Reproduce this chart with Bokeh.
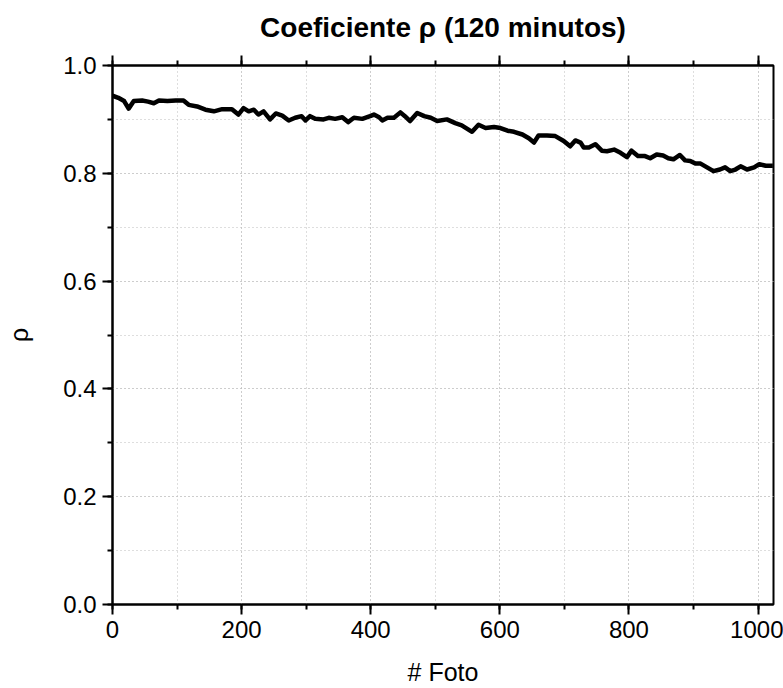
from bokeh.plotting import figure
from bokeh.models import (Range1d, LinearAxis, SingleIntervalTicker,
                          CustomJSTickFormatter, PrintfTickFormatter)
from bokeh.embed import file_html
from bokeh.resources import INLINE

# Data
foto = [0, 9, 18, 25, 33, 46, 55, 64, 72, 85, 98, 110, 118, 131, 144, 157, 170,
        185, 195, 203, 211, 219, 226, 234, 244, 253, 263, 273, 283, 293, 299, 306,
        314, 327, 335, 345, 356, 365, 374, 387, 399, 405, 413, 418, 426, 436, 446,
        453, 461, 472, 483, 493, 503, 518, 531, 541, 557, 567, 578, 591, 601, 612,
        622, 635, 645, 653, 660, 673, 686, 699, 709, 717, 725, 730, 738, 748, 758,
        766, 777, 787, 797, 804, 814, 825, 833, 843, 853, 861, 869, 879, 887, 895,
        903, 911, 921, 931, 941, 949, 957, 965, 973, 983, 994, 1002, 1012, 1023]
rho = [0.944, 0.940, 0.934, 0.920, 0.934, 0.935, 0.933, 0.930, 0.935, 0.934,
       0.935, 0.935, 0.927, 0.924, 0.918, 0.915, 0.919, 0.919, 0.909, 0.921, 0.915,
       0.918, 0.909, 0.915, 0.900, 0.911, 0.907, 0.898, 0.903, 0.906, 0.898, 0.906,
       0.901, 0.900, 0.903, 0.901, 0.904, 0.895, 0.903, 0.901, 0.906, 0.909, 0.904,
       0.898, 0.903, 0.903, 0.913, 0.906, 0.897, 0.912, 0.906, 0.903, 0.897, 0.900,
       0.893, 0.889, 0.877, 0.890, 0.884, 0.886, 0.884, 0.879, 0.877, 0.872, 0.865,
       0.857, 0.870, 0.870, 0.869, 0.860, 0.850, 0.861, 0.857, 0.848, 0.848, 0.854,
       0.842, 0.841, 0.844, 0.838, 0.830, 0.842, 0.832, 0.832, 0.828, 0.835, 0.833,
       0.828, 0.826, 0.834, 0.824, 0.823, 0.818, 0.818, 0.811, 0.804, 0.807, 0.811,
       0.804, 0.807, 0.813, 0.807, 0.811, 0.817, 0.814, 0.814]

title_text = "Coeficiente \u03c1 (120 minutos)"
x_label = "# Foto"
y_label = "\u03c1"

FONT = "Liberation Sans"

p = figure(width=783, height=688, output_backend="svg", toolbar_location=None,
           x_range=Range1d(0, 1024), y_range=Range1d(0, 1.0),
           min_border_left=112, min_border_right=10, min_border_top=64,
           min_border_bottom=81, background_fill_color="white",
           border_fill_color="white")

p.title.text = title_text
p.title.text_font = FONT
p.title.text_font_size = "28px"
p.title.text_font_style = "bold"
p.title.text_color = "black"
p.title.align = "center"
p.title.vertical_align = "top"
p.title.standoff = 22

p.outline_line_color = "black"
p.outline_line_width = 2

xt = SingleIntervalTicker(interval=200, num_minor_ticks=2)
yt = SingleIntervalTicker(interval=0.2, num_minor_ticks=2)
p.xaxis.ticker = xt
p.yaxis.ticker = yt
p.yaxis.formatter = PrintfTickFormatter(format="%.1f")

for ax in (p.xaxis[0], p.yaxis[0]):
    ax.axis_line_width = 2
    ax.axis_line_color = "black"
    ax.major_tick_line_width = 2
    ax.minor_tick_line_width = 2
    ax.major_tick_line_color = "black"
    ax.minor_tick_line_color = "black"
    ax.major_tick_in = 0
    ax.major_tick_out = 10
    ax.minor_tick_in = 0
    ax.minor_tick_out = 5
    ax.major_label_text_font = FONT
    ax.major_label_text_font_size = "24px"
    ax.major_label_text_color = "black"
    ax.axis_label_text_font = FONT
    ax.axis_label_text_font_size = "25px"
    ax.axis_label_text_font_style = "normal"
    ax.axis_label_text_color = "black"
    ax.major_label_standoff = 6

p.xaxis.axis_label = x_label
p.yaxis.axis_label = y_label
p.xaxis.axis_label_standoff = 17
p.yaxis.axis_label_standoff = 27

top = LinearAxis(ticker=SingleIntervalTicker(interval=200, num_minor_ticks=2),
                 formatter=CustomJSTickFormatter(code="return ''"))
top.axis_line_width = 2
top.major_tick_line_width = 2
top.minor_tick_line_width = 2
top.major_tick_in = 0
top.major_tick_out = 10
top.minor_tick_in = 0
top.minor_tick_out = 5
top.major_label_text_font_size = "1px"
top.major_label_standoff = 0
top.axis_label_standoff = 0
p.add_layout(top, "above")

for g in (p.xgrid[0], p.ygrid[0]):
    g.grid_line_color = "#bdbdbd"
    g.grid_line_dash = "1 3"
    g.grid_line_width = 1
    g.minor_grid_line_color = "#bdbdbd"
    g.minor_grid_line_dash = "1 3"
    g.minor_grid_line_width = 1

p.line(foto, rho, line_color="black", line_width=4.5, line_join="round")

open("out.html", "w").write(file_html(p, INLINE))
